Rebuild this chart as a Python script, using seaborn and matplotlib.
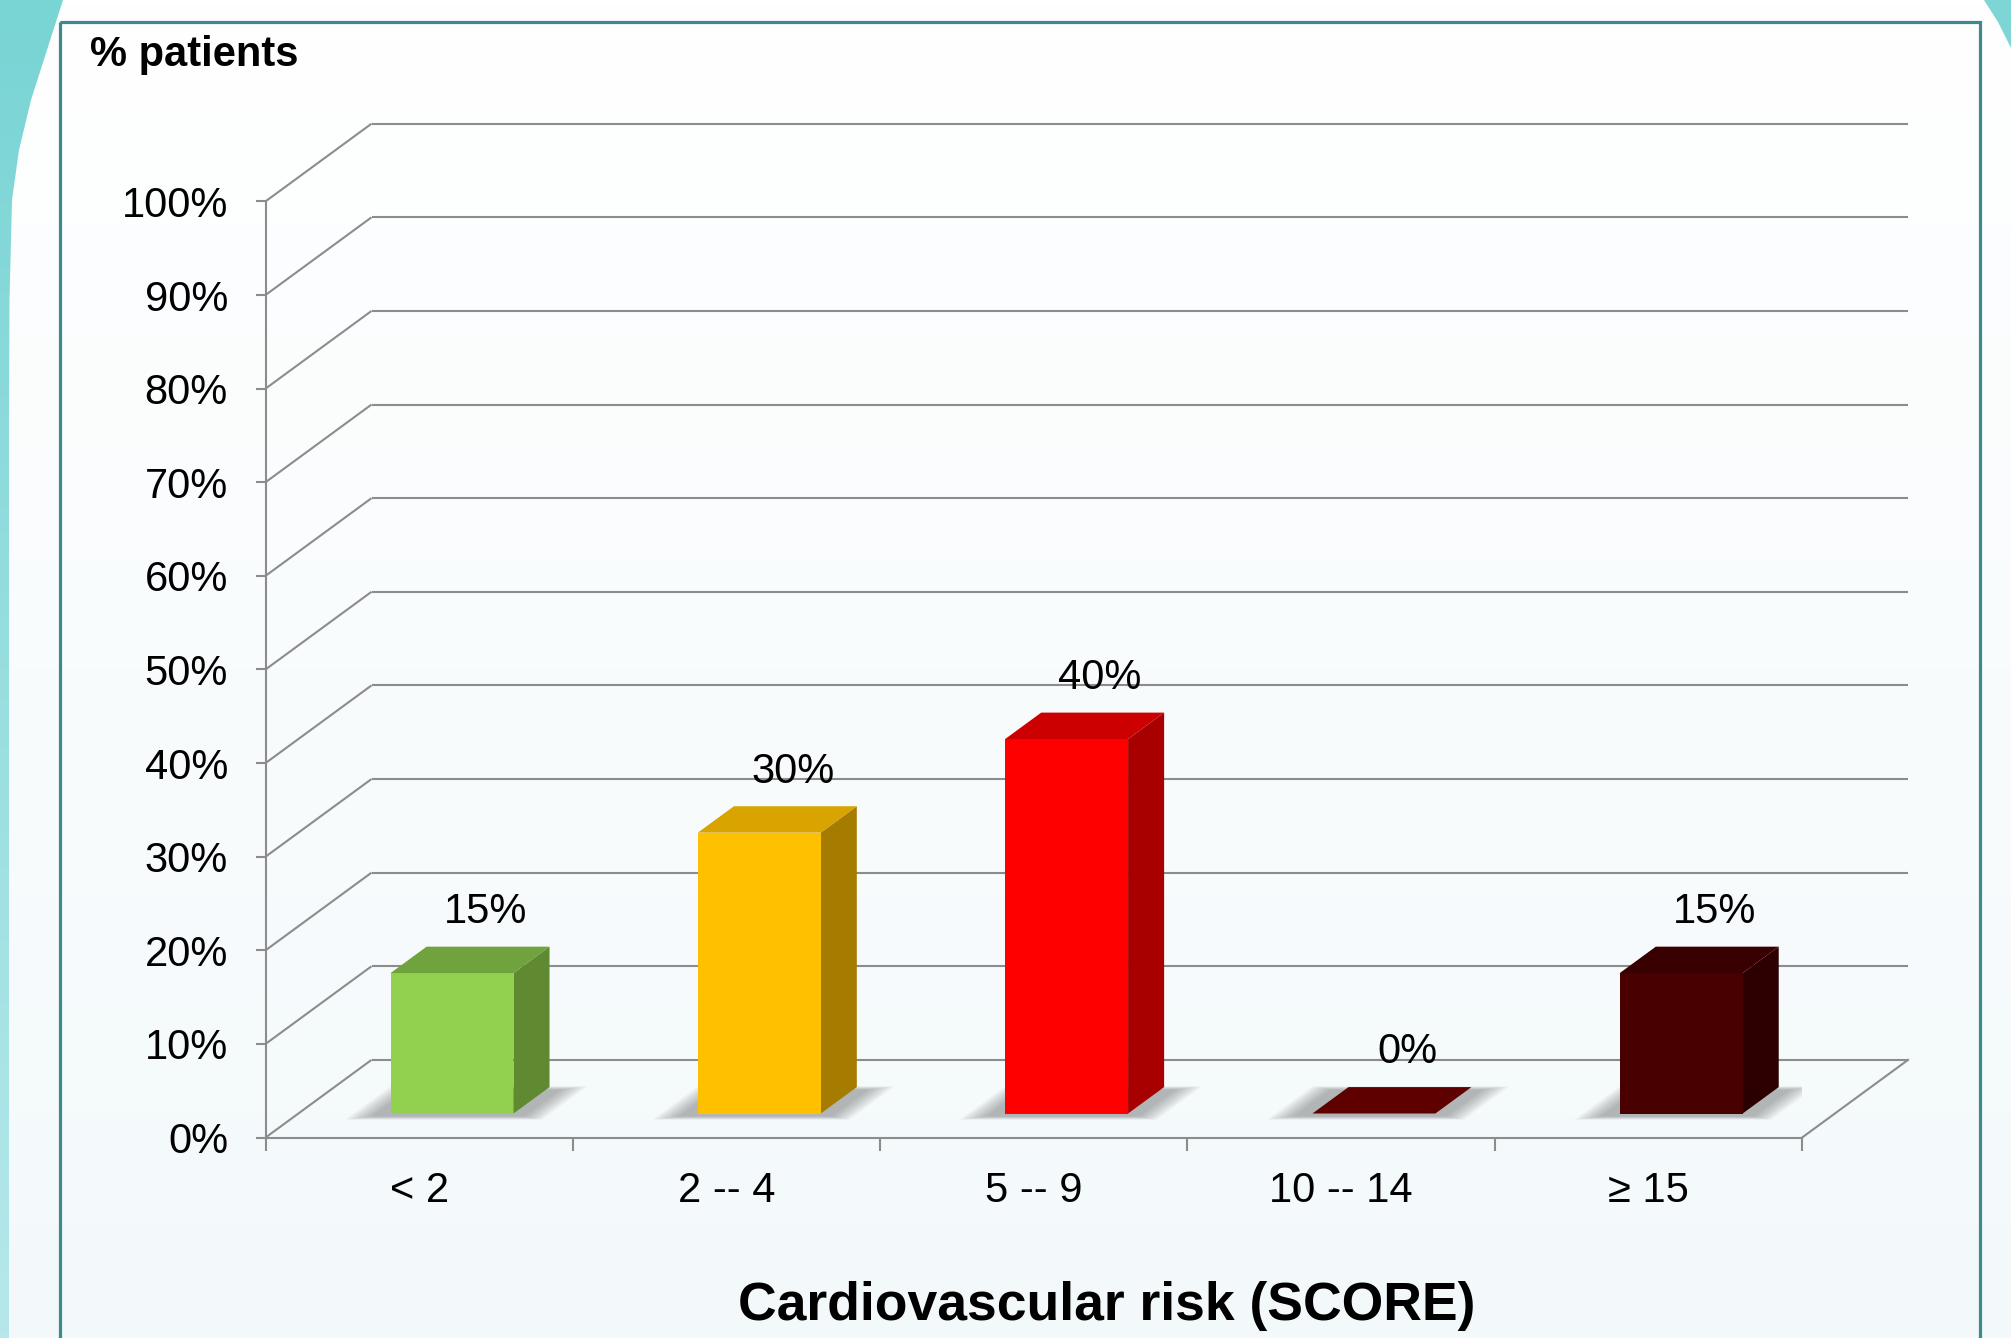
import numpy as np
import matplotlib
matplotlib.use("Agg")
import matplotlib.pyplot as plt
from matplotlib.patches import Polygon, Rectangle
from matplotlib.transforms import Affine2D
from matplotlib.colors import LinearSegmentedColormap
import seaborn as sns

# data
categories = ["< 2", "2 -- 4", "5 -- 9", "10 -- 14", "\u2265 15"]
percent = [15, 30, 40, 0, 15]
front_colors = ["#92d050", "#ffc000", "#ff0000", "#600000", "#480000"]
side_colors = ["#5f8a32", "#a67c00", "#a80000", "#3a0000", "#2c0000"]
top_colors = ["#70a23e", "#d9a300", "#cc0000", "#5e0000", "#380000"]
y_ticks = list(range(0, 101, 10))

W, H = 2011, 1338
DX, DY = 0.345, 8.3      # depth of the 3-D box (data units)
F0, DEPTH = 0.31, 0.34   # where the bars sit inside that depth
GRID = "#8c8c8c"
TEAL = "#3d8a8e"

plt.rcParams["font.family"] = ["Liberation Sans", "DejaVu Sans"]

fig = plt.figure(figsize=(W / 100, H / 100), dpi=100)
fig.patch.set_facecolor("white")

# --- slide decoration (pixel coordinates) ---
bg = fig.add_axes([0, 0, 1, 1], zorder=0)
bg.set_xlim(0, W)
bg.set_ylim(H, 0)
bg.axis("off")

grad = np.linspace(0, 1, 256).reshape(-1, 1)
bg.imshow(grad, extent=[0, W, H, 0], aspect="auto", zorder=0,
          cmap=LinearSegmentedColormap.from_list("panel", ["#ffffff", "#f3f9fb"]))

left_shape = Polygon([(0, 0), (63, 0), (47, 50), (31, 100), (19, 150), (12, 200),
                      (9.5, 300), (9, 420), (9, H), (0, H)], closed=True,
                     facecolor="none", edgecolor="none")
bg.add_patch(left_shape)
im = bg.imshow(grad, extent=[0, 70, H, 0], aspect="auto", zorder=1,
               cmap=LinearSegmentedColormap.from_list("teal", ["#79d4d4", "#b6e8eb"]))
im.set_clip_path(left_shape)

bg.add_patch(Polygon([(1984, 0), (W, 0), (W, 48), (1998, 22)], closed=True,
                     facecolor="#7dd5d5", edgecolor="none", zorder=1))
bg.add_patch(Rectangle((60, 22), 1920, H, facecolor="none", edgecolor=TEAL,
                       lw=2.3, zorder=2))

# --- chart ---
ax = fig.add_axes([265.5 / W, (H - 1137.6) / H, 1536.5 / W, 936.2 / H], zorder=1)
ax.patch.set_alpha(0)

sns.barplot(x=categories, y=percent, hue=categories, palette=front_colors,
            width=0.4, saturation=1, legend=False, ax=ax, zorder=4,
            edgecolor="none", linewidth=0)
ax.set_xlim(-0.5, 4.5)
ax.set_ylim(0, 100)

# walls and floor
for v in y_ticks:
    ax.plot([-0.5, -0.5 + DX], [v, v + DY], color=GRID, lw=1.5,
            clip_on=False, zorder=1, solid_capstyle="butt")
    ax.plot([-0.5 + DX, 4.5 + DX], [v + DY, v + DY], color=GRID, lw=1.5,
            clip_on=False, zorder=1, solid_capstyle="butt")
ax.plot([4.5, 4.5 + DX], [0, DY], color=GRID, lw=1.5, clip_on=False, zorder=1)

# 3-D sides, tops, blurred floor shadows
ox, oy = F0 * DX, F0 * DY
bx, by = DEPTH * DX, DEPTH * DY
for p in ax.patches[:]:
    if not isinstance(p, Rectangle):
        continue
    x, w, h = p.get_x(), p.get_width(), p.get_height()
    i = int(round(x + w / 2))
    p.set_transform(Affine2D().translate(ox, oy) + ax.transData)
    x0, y0 = x + ox, oy
    n = 10
    for k in range(n):
        ex = 0.008 * (n - k)
        ed = 0.010 * (n - k)
        f_lo, f_hi = F0 - 0.03 - ed * 0.5, F0 + DEPTH - 0.04 + ed * 0.5
        sx0, sx1 = x - 0.04 - ex, x + w + 0.04 + ex
        pts = [(sx0 + f_lo * DX, f_lo * DY), (sx1 + f_lo * DX, f_lo * DY),
               (sx1 + f_hi * DX, f_hi * DY), (sx0 + f_hi * DX, f_hi * DY)]
        ax.add_patch(Polygon(pts, closed=True, facecolor="#5a5a5a",
                             edgecolor="none", alpha=0.05, zorder=2))
    side = [(x0 + w, y0), (x0 + w + bx, y0 + by), (x0 + w + bx, y0 + h + by), (x0 + w, y0 + h)]
    top = [(x0, y0 + h), (x0 + bx, y0 + h + by), (x0 + w + bx, y0 + h + by), (x0 + w, y0 + h)]
    ax.add_patch(Polygon(side, closed=True, facecolor=side_colors[i], edgecolor="none", zorder=3))
    ax.add_patch(Polygon(top, closed=True, facecolor=top_colors[i], edgecolor="none", zorder=5))

# value labels
for i, v in enumerate(percent):
    ax.text(i + ox + bx / 2 + 0.05, v + 9.1, f"{v}%", ha="center", va="center",
            fontsize=30, color="black", clip_on=False, zorder=6)

# axes styling
for s in ["top", "right"]:
    ax.spines[s].set_visible(False)
for s in ["left", "bottom"]:
    ax.spines[s].set_color(GRID)
    ax.spines[s].set_linewidth(1.5)

ax.set_yticks(y_ticks)
ax.set_yticklabels([f"{v}%" for v in y_ticks])
ax.tick_params(axis="y", length=7, width=1.5, color=GRID, pad=20, labelsize=30)

ax.set_xticks(range(len(categories)))
ax.set_xticklabels(categories)
ax.set_xticks(np.arange(-0.5, len(categories)), minor=True)
ax.tick_params(axis="x", which="major", length=0, pad=24, labelsize=30)
ax.tick_params(axis="x", which="minor", length=9, width=1.5, color=GRID)
ax.set_xlabel("")
ax.set_ylabel("")

fig.text(90 / W, 1 - 55 / H, "% patients", fontsize=30, fontweight="bold",
         ha="left", va="center")
fig.text(1107 / W, 1 - 1306 / H, "Cardiovascular risk (SCORE)", fontsize=38.5,
         fontweight="bold", ha="center", va="center")

fig.savefig("out.png", dpi=100)
